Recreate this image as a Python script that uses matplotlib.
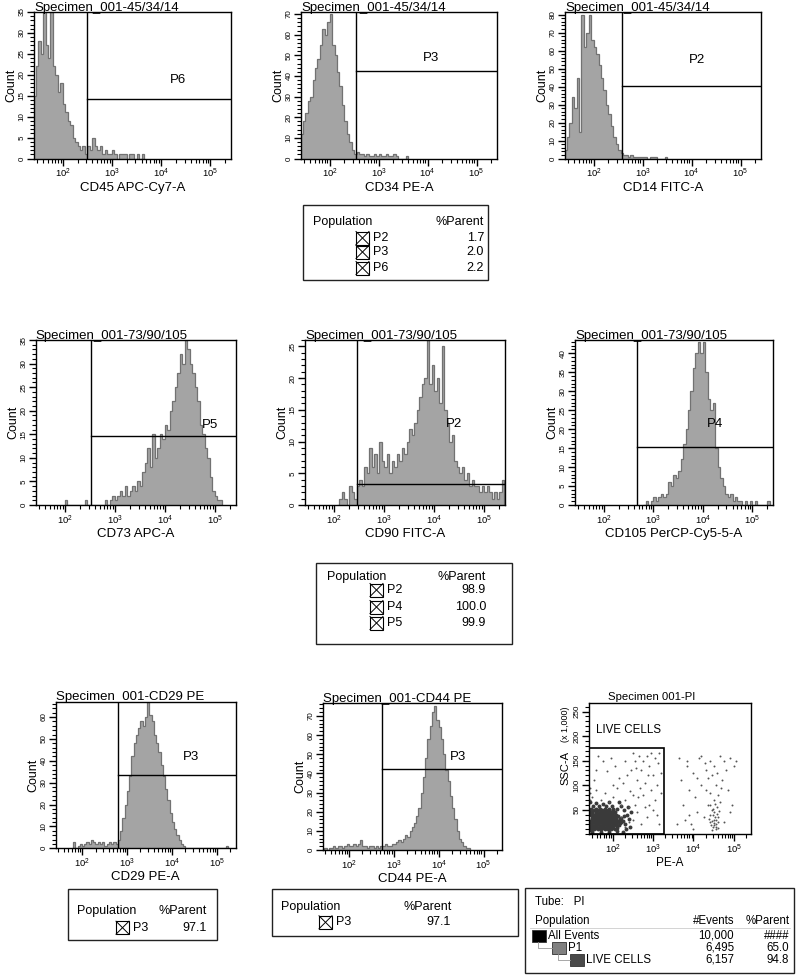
import numpy as np
import matplotlib
matplotlib.use('Agg')
import matplotlib.pyplot as plt
from matplotlib.patches import Rectangle
from matplotlib.lines import Line2D
from matplotlib.ticker import MultipleLocator, LogLocator, FixedLocator, NullFormatter, FuncFormatter

plt.rcParams['font.family'] = ['Liberation Sans', 'DejaVu Sans']
plt.rcParams['mathtext.fontset'] = 'custom'
plt.rcParams['mathtext.rm'] = 'Liberation Sans'
plt.rcParams['mathtext.it'] = 'Liberation Sans'

# ---- data (log10 bin start, bin width 0.05, counts per bin) ----
cd45_start = 1.40
cd45_counts = [15, 22, 28, 25, 35, 27, 24, 35, 22, 20, 16, 18, 13, 11, 9, 8, 5, 4, 3, 2,
               3, 1, 3, 2, 5, 3, 2, 3, 1, 2, 1, 1, 2, 1, 0, 1, 1, 1, 0, 1, 1, 0, 1, 0, 1]
cd34_start = 1.40
cd34_counts = [12, 18, 22, 28, 30, 38, 44, 48, 55, 63, 60, 66, 70, 55, 50, 42, 35, 26, 18, 12,
               8, 4, 2, 3, 2, 2, 1, 2, 1, 1, 2, 1, 2, 1, 1, 2, 1, 1, 2, 1, 0, 0, 0, 1]
cd14_start = 1.40
cd14_counts = [5, 12, 20, 34, 28, 45, 15, 80, 62, 70, 80, 66, 62, 58, 52, 45, 38, 30, 25, 18,
               12, 8, 5, 3, 2, 2, 1, 2, 1, 1, 1, 1, 1, 1, 0, 1, 1, 1, 0, 0, 0, 1]
cd73_start = 2.00
cd73_counts = [1, 0, 0, 0, 0, 0, 0, 0, 1, 0, 0, 0, 0, 0, 0, 0, 1, 0, 1, 2,
               1, 2, 3, 2, 4, 2, 3, 4, 3, 5, 4, 7, 9, 12, 8, 15, 10, 12, 15, 14,
               17, 16, 20, 22, 25, 28, 32, 30, 35, 33, 30, 28, 25, 22, 17, 15, 12, 10, 6, 3,
               2, 1, 1]
cd90_start = 2.05
cd90_counts = [0, 1, 2, 1, 0, 3, 2, 1, 3, 4, 3, 6, 5, 9, 6, 8, 5, 10, 7, 6,
               8, 5, 7, 6, 8, 7, 9, 8, 10, 12, 11, 13, 15, 17, 19, 20, 26, 19, 22, 18,
               20, 16, 25, 15, 13, 10, 11, 7, 6, 5, 6, 4, 5, 3, 4, 3, 3, 2, 3, 2,
               3, 2, 1, 2, 1, 2, 4]
cd105_start = 2.80
cd105_counts = [0, 1, 0, 1, 2, 1, 2, 3, 2, 3, 6, 5, 8, 7, 9, 12, 16, 20, 25, 30,
                36, 40, 43, 40, 43, 35, 28, 25, 27, 15, 10, 7, 5, 3, 2, 3, 1, 2, 1, 1,
                0, 1, 0, 1, 0, 1, 0, 0, 0, 0, 1]
cd29_start = 1.80
cd29_counts = [3, 0, 1, 2, 1, 2, 3, 2, 4, 3, 2, 3, 2, 3, 1, 2, 3, 2, 3, 2,
               4, 8, 14, 20, 26, 33, 42, 48, 52, 55, 58, 56, 60, 67, 61, 58, 52, 48, 44, 38,
               33, 27, 22, 16, 12, 9, 6, 4, 2, 1, 0, 0, 0, 0, 0, 0, 0, 0, 0, 0,
               0, 0, 0, 0, 0, 0, 0, 0, 1]
cd44_start = 1.45
cd44_counts = [1, 0, 1, 1, 2, 1, 2, 2, 1, 2, 3, 2, 2, 3, 2, 3, 5, 2, 2, 1,
               2, 2, 1, 2, 1, 2, 2, 3, 2, 2, 3, 3, 4, 5, 4, 6, 8, 7, 10, 12,
               14, 18, 22, 30, 38, 48, 58, 65, 72, 75, 68, 64, 58, 50, 42, 36, 28, 22, 16, 10,
               6, 4, 2, 1, 1]

# gates: (log10 threshold, count level, label, label log10 x, label y)
gates = {
    'cd45': (2.49, 14.2, 'P6', 4.35, 18.8),
    'cd34': (2.54, 42.5, 'P3', 4.07, 48.5),
    'cd14': (2.58, 40.4, 'P2', 4.12, 54.7),
    'cd73': (2.53, 14.7, 'P5', 4.90, 17.0),
    'cd90': (2.45, 3.3, 'P2', 4.40, 12.8),
    'cd105': (2.66, 15.3, 'P4', 4.25, 21.4),
    'cd29': (2.79, 33.4, 'P3', 4.43, 41.8),
    'cd44': (2.74, 42.2, 'P3', 4.42, 48.4),
}

# PI scatter (log10 PE-A, SSC-A x1000)
pi_blob = [(1.46, 10), (1.55, 10), (1.63, 10), (1.72, 10), (1.80, 10), (1.88, 10), (1.97, 10), (2.05, 10),
           (1.44, 16), (1.52, 16), (1.60, 16), (1.68, 16), (1.77, 16), (1.85, 16), (1.93, 16), (2.02, 16), (2.12, 16),
           (1.47, 22), (1.56, 22), (1.64, 22), (1.73, 22), (1.81, 22), (1.90, 22), (1.98, 22), (2.07, 22), (2.18, 22),
           (1.45, 28), (1.53, 28), (1.62, 28), (1.70, 28), (1.79, 28), (1.87, 28), (1.95, 28), (2.04, 28), (2.14, 28), (2.25, 28),
           (1.48, 34), (1.57, 34), (1.65, 34), (1.74, 34), (1.82, 34), (1.91, 34), (2.00, 34), (2.09, 34), (2.20, 34),
           (1.46, 40), (1.55, 40), (1.63, 40), (1.72, 40), (1.80, 40), (1.89, 40), (1.97, 40), (2.08, 40),
           (1.50, 46), (1.60, 46), (1.70, 46), (1.78, 46), (1.87, 46), (1.96, 46), (2.06, 46),
           (1.47, 52), (1.58, 52), (1.68, 52), (1.80, 52), (1.92, 52), (2.02, 52),
           (1.52, 58), (1.66, 58), (1.84, 58), (1.98, 58),
           (1.50, 13), (1.59, 13), (1.67, 13), (1.76, 13), (1.84, 13), (1.92, 13), (2.01, 13), (2.10, 13),
           (1.49, 19), (1.58, 19), (1.66, 19), (1.75, 19), (1.83, 19), (1.92, 19), (2.00, 19), (2.09, 19), (2.17, 19),
           (1.51, 25), (1.60, 25), (1.68, 25), (1.77, 25), (1.85, 25), (1.94, 25), (2.02, 25), (2.11, 25), (2.21, 25),
           (1.49, 31), (1.58, 31), (1.66, 31), (1.75, 31), (1.83, 31), (1.91, 31), (1.99, 31), (2.09, 31), (2.18, 31),
           (1.52, 37), (1.61, 37), (1.69, 37), (1.78, 37), (1.86, 37), (1.95, 37), (2.04, 37), (2.14, 37),
           (1.50, 43), (1.59, 43), (1.67, 43), (1.76, 43), (1.84, 43), (1.93, 43), (2.02, 43),
           (1.55, 49), (1.65, 49), (1.74, 49), (1.83, 49), (1.91, 49), (2.00, 49),
           (2.30, 20), (2.35, 40), (2.28, 50), (2.20, 58), (2.15, 65), (1.45, 65), (1.60, 64), (1.75, 62),
           (1.90, 66), (2.40, 32), (2.32, 10), (2.25, 5), (1.50, 4), (1.70, 5), (1.90, 4), (2.10, 6),
           (2.45, 45), (2.38, 55), (2.42, 15), (2.27, 37), (2.12, 52), (1.44, 46), (1.44, 8)]
pi_sparse = [(1.5, 75), (1.6, 90), (1.55, 110), (1.7, 70), (1.8, 85), (1.9, 65), (2.0, 75), (2.1, 95),
             (1.75, 150), (1.95, 155), (2.2, 60), (2.3, 70), (2.4, 55), (2.5, 80), (2.6, 110), (2.7, 130),
             (2.75, 150), (2.85, 160), (2.9, 140), (3.0, 120), (3.05, 155), (3.1, 100), (3.15, 165), (2.65, 160),
             (2.55, 150), (2.45, 130), (2.35, 120), (2.25, 105), (2.15, 115), (2.8, 105), (2.95, 90), (3.05, 70),
             (2.9, 60), (2.6, 45), (2.5, 30), (2.4, 25), (2.7, 20), (2.85, 35), (3.0, 50), (3.1, 40),
             (3.2, 85), (2.3, 150), (2.05, 140), (1.85, 128), (1.65, 160), (2.5, 165), (2.95, 165), (3.2, 125),
             (2.2, 35), (2.3, 15), (2.0, 100), (1.6, 130), (2.75, 80), (3.15, 20), (1.44, 70), (1.44, 85), (1.45, 95),
             (2.55, 60), (2.62, 75), (2.8, 55), (2.68, 95), (2.88, 120), (3.12, 145), (2.58, 135), (2.42, 88),
             (3.7, 110), (3.75, 60), (3.8, 30), (3.85, 140), (3.9, 90), (3.95, 20), (4.0, 125), (4.05, 75),
             (4.1, 45), (4.15, 155), (4.2, 100), (4.25, 35), (4.3, 130), (4.35, 60), (4.4, 40), (4.42, 25),
             (4.45, 50), (4.48, 15), (4.5, 30), (4.52, 45), (4.55, 20), (4.58, 55), (4.6, 35), (4.62, 25),
             (4.45, 120), (4.5, 140), (4.55, 100), (4.6, 80), (4.65, 65), (4.7, 110), (4.75, 150), (4.8, 130),
             (4.85, 90), (4.9, 155), (4.95, 60), (5.0, 140), (4.4, 150), (4.3, 90), (4.2, 160), (4.1, 115),
             (3.9, 40), (4.0, 10), (4.5, 70), (4.55, 10), (4.48, 40), (4.52, 22), (4.56, 30), (4.44, 18),
             (4.6, 12), (4.42, 60), (4.35, 115), (4.65, 160), (5.05, 150), (4.9, 45), (4.75, 25), (3.85, 150),
             (3.6, 20), (3.65, 155), (4.47, 28), (4.53, 35), (4.57, 15), (4.49, 52), (4.54, 62), (4.46, 8),
             (4.59, 42), (4.51, 18), (4.38, 32), (4.63, 48), (4.41, 85), (4.58, 125), (4.68, 95), (4.28, 145)]
pi_gate = (3.27, 175.6)

# tables
tab1_pops = ['P2', 'P3', 'P6']
tab1_parent = [1.7, 2.0, 2.2]
tab2_pops = ['P2', 'P4', 'P5']
tab2_parent = [98.9, 100.0, 99.9]
tab3_pops = ['P3']
tab3_parent = [97.1]
tab4_pops = ['P3']
tab4_parent = [97.1]
tube_pops = ['All Events', 'P1', 'LIVE CELLS']
tube_events = [10000, 6495, 6157]
tube_parent = ['####', '65.0', '94.8']

# ---- drawing ----
W, H = 799, 975
XMIN, XMAX = 26, 262143
FILL = '#a4a4a4'
EDGE = '#727272'
fig = plt.figure(figsize=(W / 100, H / 100), dpi=100)


def box_rect(x0, y0, x1, y1):
    return [x0 / W, 1 - y1 / H, (x1 - x0) / W, (y1 - y0) / H]


def style(ax, ymaj, ymin, ylabels=None):
    ax.set_xscale('log')
    ax.set_xlim(XMIN, XMAX)
    ax.xaxis.set_major_locator(FixedLocator([1e2, 1e3, 1e4, 1e5]))
    ax.xaxis.set_major_formatter(FuncFormatter(lambda v, p: r'$10^{%d}$' % round(np.log10(v))))
    ax.xaxis.set_minor_locator(LogLocator(base=10, subs=np.arange(2, 10), numticks=20))
    ax.xaxis.set_minor_formatter(NullFormatter())
    if ylabels is None:
        ax.yaxis.set_major_locator(MultipleLocator(ymaj))
    else:
        ax.yaxis.set_major_locator(FixedLocator(ylabels))
    ax.yaxis.set_minor_locator(MultipleLocator(ymin))
    ax.tick_params(axis='both', which='major', length=5, width=1, labelsize=6.8, pad=1)
    ax.tick_params(axis='both', which='minor', length=3, width=0.8)
    ax.tick_params(axis='y', labelsize=5.8, labelrotation=90)
    for lab in ax.get_yticklabels():
        lab.set_va('center')
    for s in ax.spines.values():
        s.set_linewidth(1)


def panel_title(ax, box, title, size=9.5):
    # baseline about 1.5 px above the frame
    ax.text(0, 1 + 1.5 / (box[3] * H), title, transform=ax.transAxes,
            fontsize=size, ha='left', va='baseline')


def hist_panel(box, title, xlabel, start, counts, ymax, ymaj, ymin, gate):
    ax = fig.add_axes(box)
    edges = 10 ** (start + 0.05 * np.arange(len(counts) + 1))
    ax.stairs(counts, edges, fill=True, color=FILL, lw=0)
    ax.stairs(counts, edges, color=EDGE, lw=0.9)
    ax.set_ylim(0, ymax)
    gx, gy, gname, lx, ly = gate
    ax.axvline(10 ** gx, color='k', lw=1)
    ax.plot([10 ** gx, XMAX], [gy, gy], color='k', lw=1)
    ax.text(10 ** lx, ly, gname, fontsize=9.5, ha='center', va='center')
    style(ax, ymaj, ymin)
    panel_title(ax, box, title)
    ax.set_xlabel(xlabel, fontsize=9.5, labelpad=1)
    ax.set_ylabel('Count', fontsize=9, labelpad=1)
    return ax


hist_panel(box_rect(34, 12, 231, 158.5), 'Specimen_001-45/34/14', 'CD45 APC-Cy7-A',
           cd45_start, cd45_counts, 35, 5, 1, gates['cd45'])
hist_panel(box_rect(301, 12, 497, 158.5), 'Specimen_001-45/34/14', 'CD34 PE-A',
           cd34_start, cd34_counts, 71, 10, 2, gates['cd34'])
hist_panel(box_rect(565, 12, 761, 158.5), 'Specimen_001-45/34/14', 'CD14 FITC-A',
           cd14_start, cd14_counts, 81.5, 10, 2, gates['cd14'])
hist_panel(box_rect(35.7, 340, 235.7, 505), 'Specimen_001-73/90/105', 'CD73 APC-A',
           cd73_start, cd73_counts, 35, 5, 1, gates['cd73'])
hist_panel(box_rect(305, 340, 505, 505), 'Specimen_001-73/90/105', 'CD90 FITC-A',
           cd90_start, cd90_counts, 26, 5, 1, gates['cd90'])
hist_panel(box_rect(575, 340, 773, 505), 'Specimen_001-73/90/105', 'CD105 PerCP-Cy5-5-A',
           cd105_start, cd105_counts, 43.5, 5, 1, gates['cd105'])
hist_panel(box_rect(55.7, 701.7, 235.7, 848.3), 'Specimen_001-CD29 PE', 'CD29 PE-A',
           cd29_start, cd29_counts, 67, 10, 2, gates['cd29'])
hist_panel(box_rect(322.7, 703.3, 502.3, 850), 'Specimen_001-CD44 PE', 'CD44 PE-A',
           cd44_start, cd44_counts, 76.6, 10, 2, gates['cd44'])

# PI dot plot
ax = fig.add_axes(box_rect(589, 702.7, 750.7, 834.3))
bx = [10 ** p[0] for p in pi_blob]
by = [p[1] for p in pi_blob]
sx = [10 ** p[0] for p in pi_sparse]
sy = [p[1] for p in pi_sparse]
ax.scatter(bx, by, s=8, color='#3a3a3a', lw=0)
ax.scatter(sx, sy, s=2, color='#555555', lw=0)
ax.add_patch(Rectangle((XMIN, 0), 10 ** pi_gate[0] - XMIN, pi_gate[1], fill=False, ec='k', lw=1.2))
ax.set_ylim(0, 268)
style(ax, 50, 10, ylabels=[50, 100, 150, 200, 250])
ax.text(10 ** 1.58, 213, 'LIVE CELLS', fontsize=8.3, va='center')
ax.set_xlabel('PE-A', fontsize=8.5, labelpad=1)
fig.text(608 / W, 1 - 697 / H, 'Specimen 001-PI', fontsize=8.2, va='center')
fig.text(565 / W, 1 - 724 / H, '(x 1,000)', fontsize=6.5, rotation=90, ha='center', va='center')
fig.text(565 / W, 1 - 768 / H, 'SSC-A', fontsize=8, rotation=90, ha='center', va='center')


# ---- tables ----
def t(x, y, s, ha='left', size=9):
    fig.text(x / W, 1 - y / H, s, ha=ha, va='center', fontsize=size)


def frame(x0, y0, x1, y1, lw=1.0):
    fig.add_artist(Rectangle((x0 / W, 1 - y1 / H), (x1 - x0) / W, (y1 - y0) / H,
                             transform=fig.transFigure, fill=False, ec='#222222', lw=lw))


def checkbox(x, y, size=13):
    x0, x1 = x / W, (x + size) / W
    y0, y1 = 1 - (y + size / 2) / H, 1 - (y - size / 2) / H
    fig.add_artist(Rectangle((x0, y0), x1 - x0, y1 - y0, transform=fig.transFigure,
                             fill=False, ec='k', lw=0.8))
    fig.add_artist(Line2D([x0, x1], [y0, y1], transform=fig.transFigure, color='k', lw=0.7))
    fig.add_artist(Line2D([x0, x1], [y1, y0], transform=fig.transFigure, color='k', lw=0.7))


def pop_table(x0, y0, x1, y1, head_y, pop_x, par_right, cb_x, rows_y, pops, parents, par_x=None):
    frame(x0, y0, x1, y1)
    t(pop_x, head_y, 'Population')
    if par_x is None:
        t(par_right, head_y, '%Parent', ha='right')
    else:
        t(par_x, head_y, '%Parent')
    for ry, name, val in zip(rows_y, pops, parents):
        checkbox(cb_x, ry)
        t(cb_x + 17, ry, name)
        t(par_right, ry, '%.1f' % val, ha='right')


pop_table(302.7, 205, 487.7, 280, 222, 313, 484, 356, [238, 252, 268], tab1_pops, tab1_parent)
pop_table(316, 563, 512, 644, 577, 327, 486, 370, [590, 607, 623], tab2_pops, tab2_parent)
pop_table(68, 889.3, 216.7, 940, 911, 77, 206.7, 116, [927.7], tab3_pops, tab3_parent)
pop_table(271.7, 889, 518.3, 935.7, 906.7, 281, 451, 319, [922.3], tab4_pops, tab4_parent, par_x=404)

# tube hierarchy table
frame(525, 888.3, 794, 973)
t(535, 901.7, 'Tube:   PI', size=8.3)
t(535, 921, 'Population', size=8.3)
t(734, 921, '#Events', ha='right', size=8.3)
t(789.3, 921, '%Parent', ha='right', size=8.3)
fig.add_artist(Line2D([530 / W, 790 / W], [1 - 928 / H, 1 - 928 / H], transform=fig.transFigure,
                      color='#cccccc', lw=0.6))
row_y = [935.7, 947.7, 960]
sq_x = [532, 552, 570]
sq_c = ['#000000', '#808080', '#4a4a4a']
for i, (ry, name, ev, par) in enumerate(zip(row_y, tube_pops, tube_events, tube_parent)):
    sx0 = sq_x[i]
    fig.add_artist(Rectangle((sx0 / W, 1 - (ry + 6) / H), 14 / W, 12 / H, transform=fig.transFigure,
                             fc=sq_c[i], ec='#333333', lw=0.6))
    if i > 0:
        px0 = sq_x[i - 1] + 6
        fig.add_artist(Line2D([px0 / W, px0 / W, sx0 / W], [1 - (row_y[i - 1] + 6) / H, 1 - ry / H, 1 - ry / H],
                              transform=fig.transFigure, color='#999999', lw=0.6))
    t(sx0 + 16, ry, name, size=8.3)
    t(734, ry, '{:,}'.format(ev), ha='right', size=8.3)
    t(789.3, ry, par, ha='right', size=8.3)

fig.savefig('out.png', dpi=100)
